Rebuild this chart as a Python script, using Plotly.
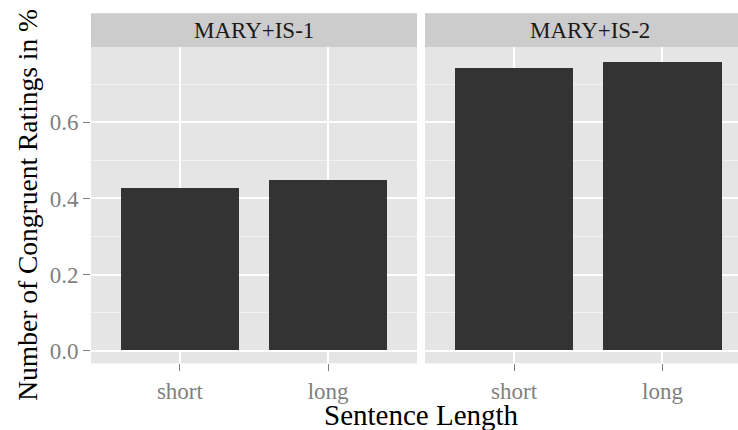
import plotly.graph_objects as go

categories = ["short", "long"]
panels = ["MARY+IS-1", "MARY+IS-2"]
values_mary_is_1 = [0.427, 0.447]
values_mary_is_2 = [0.742, 0.758]
y_ticks = [0.0, 0.2, 0.4, 0.6]
y_tick_labels = ["0.0", "0.2", "0.4", "0.6"]

W, H = 738, 430
FONT = "Liberation Serif"
BAR = "#333333"
PANEL_BG = "#e5e5e5"
STRIP_BG = "#cccccc"
TICK_GREY = "#7f7f7f"

def px_x(p):
    return p / W

def px_y(p):
    return 1 - p / H

left_dom = [px_x(91), px_x(417)]
right_dom = [px_x(425), 1.0]
y_dom = [px_y(363.3), px_y(47.3)]

fig = go.Figure()
fig.add_trace(go.Bar(x=categories, y=values_mary_is_1, width=0.8,
                     marker=dict(color=BAR, line=dict(width=0)),
                     xaxis="x", yaxis="y", showlegend=False))
fig.add_trace(go.Bar(x=categories, y=values_mary_is_2, width=0.8,
                     marker=dict(color=BAR, line=dict(width=0)),
                     xaxis="x2", yaxis="y2", showlegend=False))

common_x = dict(type="category", showgrid=True, gridcolor="white", gridwidth=1.6,
                zeroline=False, showline=False, ticks="outside", ticklen=7,
                tickcolor=TICK_GREY, tickwidth=1, automargin=False,
                tickfont=dict(family=FONT, size=23, color=TICK_GREY),
                fixedrange=True)
minor_grid = dict(dtick=0.1, tick0=0.1, showgrid=True, gridcolor="#f2f2f2", gridwidth=0.8, ticks="")
fig.update_layout(
    template="none",
    width=W, height=H,
    margin=dict(l=0, r=0, t=0, b=0, pad=0),
    paper_bgcolor="white", plot_bgcolor=PANEL_BG,
    bargap=0,
    xaxis=dict(domain=left_dom, range=[-0.6, 1.6], anchor="y", **common_x),
    xaxis2=dict(domain=right_dom, range=[-0.6, 1.509], anchor="y2", **common_x),
    yaxis=dict(domain=y_dom, range=[-0.033, 0.797], anchor="x",
               tickvals=y_ticks, ticktext=y_tick_labels,
               showgrid=True, gridcolor="white", gridwidth=1.6,
               minor=minor_grid,
               zeroline=False, showline=False, ticks="outside", ticklen=7,
               tickcolor=TICK_GREY, tickwidth=1, automargin=False,
               tickfont=dict(family=FONT, size=23, color=TICK_GREY),
               fixedrange=True),
    yaxis2=dict(domain=y_dom, range=[-0.033, 0.797], anchor="x2", matches="y",
                tickvals=y_ticks, showticklabels=False,
                showgrid=True, gridcolor="white", gridwidth=1.6,
                minor=minor_grid, automargin=False,
                zeroline=False, showline=False, ticks="", fixedrange=True),
)

# strips
for dom in [left_dom, right_dom]:
    fig.add_shape(type="rect", xref="paper", yref="paper",
                  x0=dom[0], x1=dom[1], y0=px_y(47.3), y1=px_y(13.3),
                  fillcolor=STRIP_BG, line=dict(width=0), layer="below")

fig.add_annotation(x=(left_dom[0] + left_dom[1]) / 2, y=px_y(30.3), xref="paper", yref="paper",
                   text=panels[0], showarrow=False, xanchor="center", yanchor="middle",
                   font=dict(family=FONT, size=23, color="#1a1a1a"))
fig.add_annotation(x=px_x(589.5), y=px_y(30.3), xref="paper", yref="paper",
                   text=panels[1], showarrow=False, xanchor="center", yanchor="middle",
                   font=dict(family=FONT, size=23, color="#1a1a1a"))

# axis titles
fig.add_annotation(x=px_x(421), y=px_y(415), xref="paper", yref="paper",
                   text="Sentence Length", showarrow=False, xanchor="center", yanchor="middle",
                   font=dict(family=FONT, size=29, color="black"))
fig.add_annotation(x=px_x(27.5), y=px_y(205.3), xref="paper", yref="paper",
                   text="Number of Congruent Ratings in %", showarrow=False, textangle=-90,
                   xanchor="center", yanchor="middle",
                   font=dict(family=FONT, size=27.5, color="black"))

fig.write_html("out.html", config=dict(displayModeBar=False),
               post_script="document.body.style.margin='0';")
